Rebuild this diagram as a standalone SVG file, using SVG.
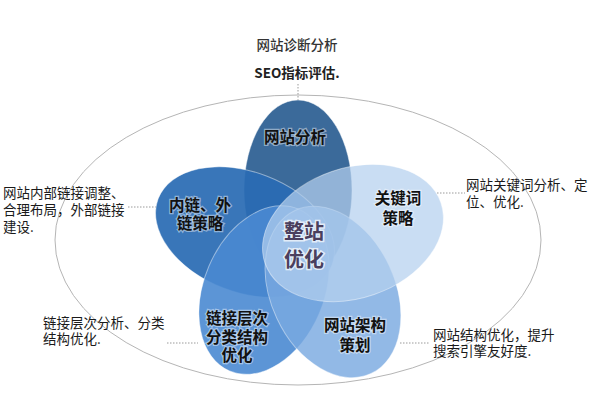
<svg xmlns="http://www.w3.org/2000/svg" width="600" height="400" viewBox="0 0 600 400">
<style>
.note{font-family:"Noto Sans CJK SC","Noto Sans",sans-serif;font-size:13.5px;fill:#1a1a1a;}
.lbl{font-family:"Noto Sans CJK SC","Noto Sans",sans-serif;font-size:15.5px;font-weight:bold;fill:#111;text-anchor:middle;stroke:#ffffff;stroke-opacity:0.45;stroke-width:2.5px;paint-order:stroke;}
.ctr{font-family:"Noto Sans CJK SC","Noto Sans",sans-serif;font-size:20px;font-weight:bold;fill:#4a3f5e;text-anchor:middle;stroke:#ffffff;stroke-opacity:0.7;stroke-width:3px;paint-order:stroke;}
.petal{stroke:#ffffff;stroke-opacity:0.45;stroke-width:1;}
.lead{stroke:#9a9a9a;stroke-width:1;stroke-dasharray:1.5 1.5;fill:none;}
</style>
<rect width="600" height="400" fill="#ffffff"/>
<ellipse cx="298" cy="240" rx="243" ry="145" fill="none" stroke="#b5b5b5" stroke-width="1"/>
<g id="connectors">
<line class="lead" x1="298" y1="84" x2="298" y2="100"/>
<line class="lead" x1="128" y1="207" x2="158" y2="207"/>
<line class="lead" x1="437" y1="193" x2="465" y2="193"/>
<line class="lead" x1="167" y1="343" x2="198" y2="343"/>
<line class="lead" x1="400" y1="343" x2="430" y2="343"/>
</g>
<g id="petal-top">
<ellipse class="petal" cx="298" cy="190" rx="54" ry="90" fill="#3b6a9a"/>
</g>
<g id="petal-upperleft">
<ellipse class="petal" cx="245" cy="232" rx="60" ry="93" transform="rotate(-69 245 232)" fill="#2a6cb4" fill-opacity="0.93"/>
</g>
<g id="petal-lowerleft">
<ellipse class="petal" cx="264" cy="290" rx="60" ry="88" transform="rotate(23 264 290)" fill="#4a8ad2" fill-opacity="0.9"/>
</g>
<g id="petal-lowerright">
<ellipse class="petal" cx="333" cy="292" rx="62" ry="90" transform="rotate(-25 333 292)" fill="#7aaae0" fill-opacity="0.82"/>
</g>
<g id="petal-right">
<ellipse class="petal" cx="353" cy="233" rx="65" ry="93" transform="rotate(71 353 233)" fill="#b4d0ee" fill-opacity="0.72"/>
</g>
<g id="label-top"><text class="lbl" x="295" y="143">网站分析</text></g>
<g id="label-upperleft"><text class="lbl" x="200" y="211">内链、外</text><text class="lbl" x="200" y="229">链策略</text></g>
<g id="label-right"><text class="lbl" x="398" y="204">关键词</text><text class="lbl" x="398" y="224">策略</text></g>
<g id="label-lowerleft"><text class="lbl" x="237" y="324">链接层次</text><text class="lbl" x="237" y="343">分类结构</text><text class="lbl" x="237" y="361">优化</text></g>
<g id="label-lowerright"><text class="lbl" x="355" y="331">网站架构</text><text class="lbl" x="355" y="351">策划</text></g>
<g id="center"><text class="ctr" x="304" y="239">整站</text><text class="ctr" x="304" y="267">优化</text></g>
<g id="note-top">
<text class="note" x="297" y="50" text-anchor="middle" style="font-weight:500;fill:#333">网站诊断分析</text>
<text class="note" x="297" y="78" text-anchor="middle" style="font-weight:bold;fill:#222">SEO指标评估.</text>
</g>
<g id="note-left">
<text class="note" x="3" y="198">网站内部链接调整、</text>
<text class="note" x="3" y="215">合理布局，外部链接</text>
<text class="note" x="3" y="232">建设.</text>
</g>
<g id="note-right">
<text class="note" x="466" y="190">网站关键词分析、定</text>
<text class="note" x="466" y="207">位、优化.</text>
</g>
<g id="note-lowerleft">
<text class="note" x="43" y="328">链接层次分析、分类</text>
<text class="note" x="43" y="344">结构优化.</text>
</g>
<g id="note-lowerright">
<text class="note" x="433" y="340">网站结构优化，提升</text>
<text class="note" x="433" y="356">搜索引擎友好度.</text>
</g>
</svg>
